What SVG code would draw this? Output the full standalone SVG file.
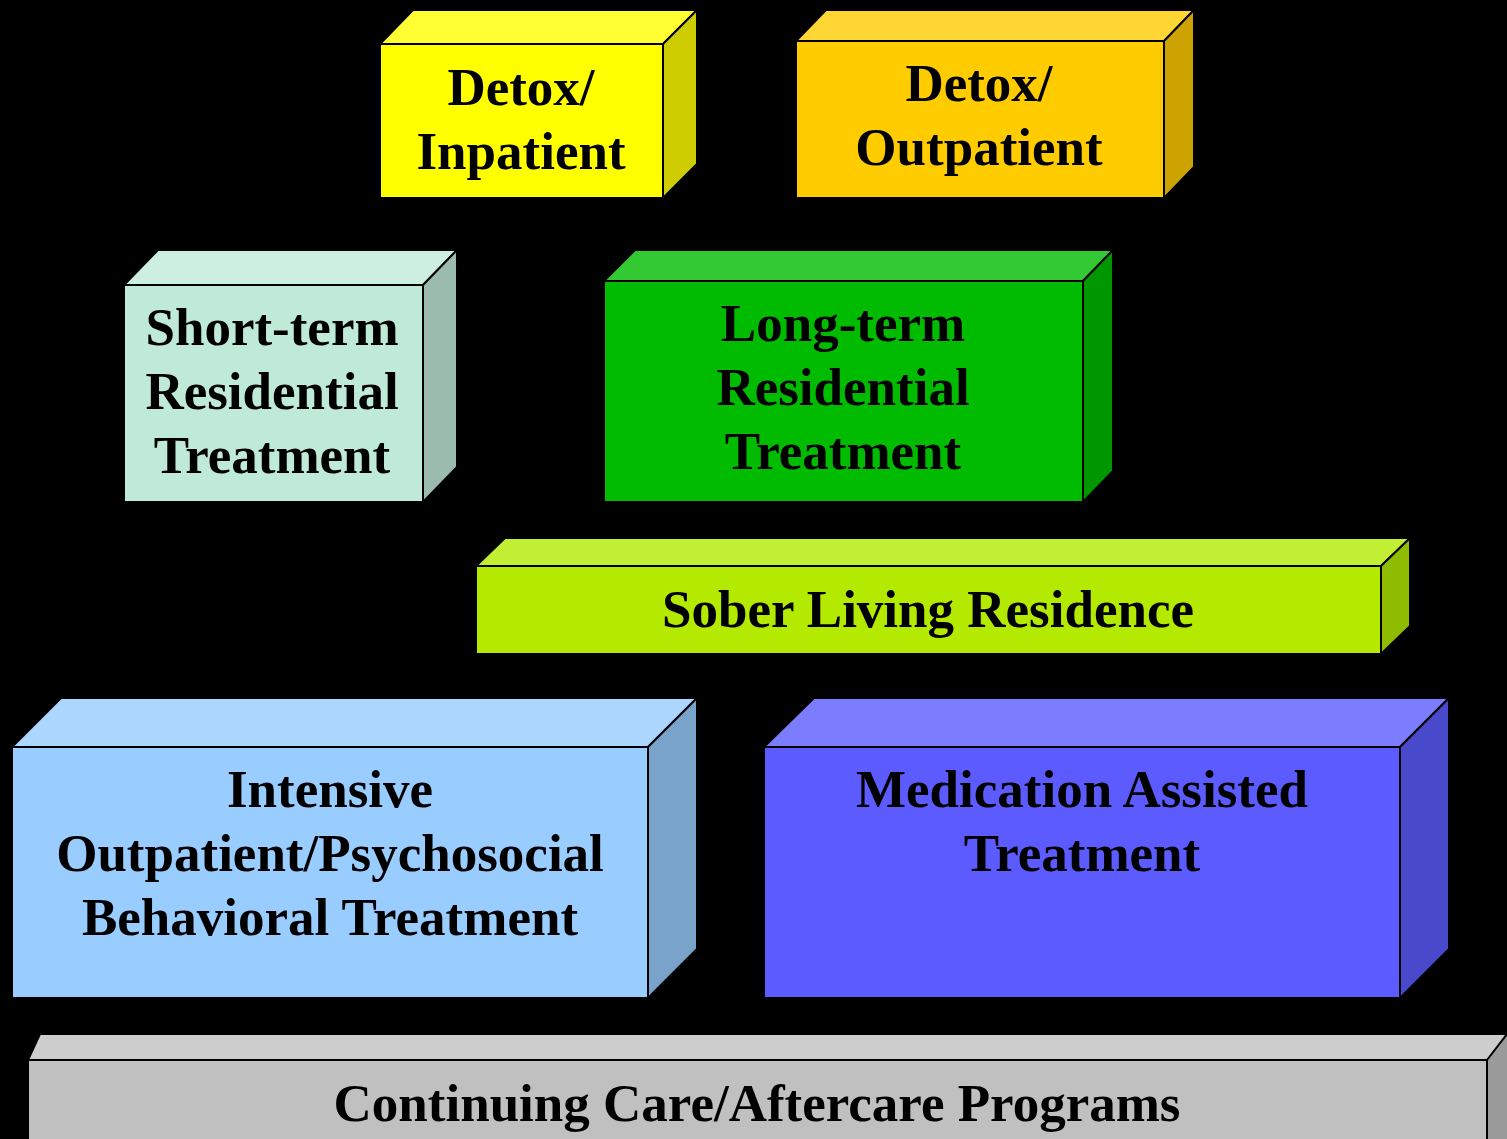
<svg xmlns="http://www.w3.org/2000/svg" width="1507" height="1139" viewBox="0 0 1507 1139">
<style>
.e{stroke:#000;stroke-width:2;stroke-linejoin:miter}
.t{font-family:"Liberation Serif","Times New Roman",serif;font-weight:bold;font-size:53px;fill:#000;text-anchor:middle}
</style>
<rect x="0" y="0" width="1507" height="1139" fill="#000"/>
<g id="detox-inpatient">
<polygon class="e" fill="#FFFF33" points="380,44 413,10 697,10 663,44"/>
<polygon class="e" fill="#CCCC00" points="663,44 697,10 697,164 663,198"/>
<rect class="e" fill="#FFFF00" x="380" y="44" width="283" height="154"/>
<text class="t" x="521" y="105">Detox/</text>
<text class="t" x="521" y="169">Inpatient</text>
</g>
<g id="detox-outpatient">
<polygon class="e" fill="#FFD633" points="796,41 826,10 1194,10 1164,41"/>
<polygon class="e" fill="#CCA300" points="1164,41 1194,10 1194,167 1164,198"/>
<rect class="e" fill="#FFCC00" x="796" y="41" width="368" height="157"/>
<text class="t" x="979" y="101">Detox/</text>
<text class="t" x="979" y="165">Outpatient</text>
</g>
<g id="short-term">
<polygon class="e" fill="#CDEFE0" points="124,285 158,250 457,250 423,285"/>
<polygon class="e" fill="#9ABBAD" points="423,285 457,250 457,467 423,502"/>
<rect class="e" fill="#C0EAD8" x="124" y="285" width="299" height="217"/>
<text class="t" x="272" y="345">Short-term</text>
<text class="t" x="272" y="409">Residential</text>
<text class="t" x="272" y="473">Treatment</text>
</g>
<g id="long-term">
<polygon class="e" fill="#33C933" points="604,281 635,250 1113,250 1083,281"/>
<polygon class="e" fill="#009600" points="1083,281 1113,250 1113,471 1083,502"/>
<rect class="e" fill="#00BB00" x="604" y="281" width="479" height="221"/>
<text class="t" x="843" y="341">Long-term</text>
<text class="t" x="843" y="405">Residential</text>
<text class="t" x="843" y="469">Treatment</text>
</g>
<g id="sober-living">
<polygon class="e" fill="#C2EE33" points="476,566 505,538 1410,538 1381,566"/>
<polygon class="e" fill="#8FBB00" points="1381,566 1410,538 1410,626 1381,654"/>
<rect class="e" fill="#B3EA00" x="476" y="566" width="905" height="88"/>
<text class="t" x="928" y="627">Sober Living Residence</text>
</g>
<g id="intensive-outpatient">
<polygon class="e" fill="#ADD6FF" points="12,747 61,698 697,698 648,747"/>
<polygon class="e" fill="#7AA3CC" points="648,747 697,698 697,949 648,998"/>
<rect class="e" fill="#99CCFF" x="12" y="747" width="636" height="251"/>
<text class="t" x="330" y="807">Intensive</text>
<text class="t" x="330" y="871">Outpatient/Psychosocial</text>
<text class="t" x="330" y="935">Behavioral Treatment</text>
</g>
<g id="medication-assisted">
<polygon class="e" fill="#7C7CFF" points="764,747 814,698 1449,698 1400,747"/>
<polygon class="e" fill="#4949CC" points="1400,747 1449,698 1449,949 1400,998"/>
<rect class="e" fill="#5B5BFF" x="764" y="747" width="636" height="251"/>
<text class="t" x="1082" y="807">Medication Assisted</text>
<text class="t" x="1082" y="871">Treatment</text>
</g>
<g id="continuing-care">
<polygon class="e" fill="#CDCDCD" points="28,1060 40,1034 1520,1034 1487,1060"/>
<polygon class="e" fill="#9A9A9A" points="1487,1060 1507,1034 1520,1034 1520,1150 1487,1150"/>
<rect class="e" fill="#C0C0C0" x="28" y="1060" width="1459" height="95"/>
<text class="t" x="757" y="1121">Continuing Care/Aftercare Programs</text>
</g>
<g id="connectors"></g>
</svg>
